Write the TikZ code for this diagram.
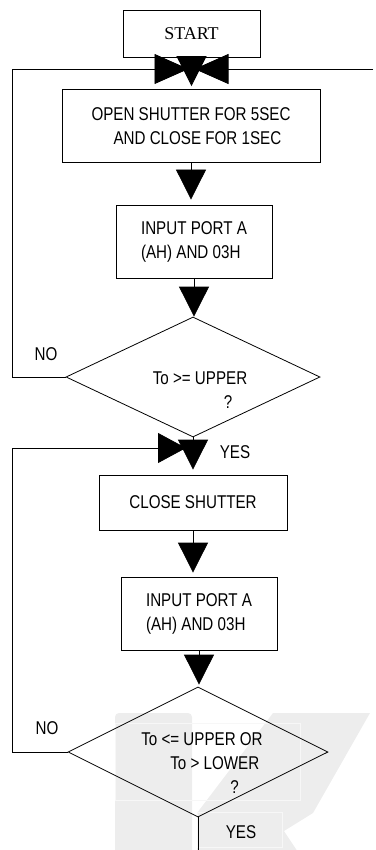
\documentclass[tikz,border=0pt]{standalone}
\usepackage{fontspec}
\usepackage{tikz}
\usetikzlibrary{arrows.meta,shapes.geometric}
\newfontfamily\chartfont[FakeStretch=0.82]{Liberation Sans}
\newfontfamily\startfont{Liberation Serif}
\definecolor{wmark}{gray}{0.93}
\definecolor{wline}{gray}{0.97}
\begin{document}
\begin{tikzpicture}[x=1pt,y=-1pt,line width=0.8pt,
  box/.style={draw,rectangle,inner sep=0pt,align=left,font=\chartfont\fontsize{18.5}{24}\selectfont},
  decision/.style={draw,diamond,inner sep=0pt},
  txt/.style={inner sep=0pt,align=left,font=\chartfont\fontsize{18.5}{24}\selectfont},
  flow/.style={-{Triangle[length=30pt,width=30pt]}},
  flowh/.style={-{Triangle[length=34pt,width=30pt]}}]
\useasboundingbox (0,0) rectangle (375,850);
\fill[wmark,rounded corners=4pt] (115,713) rectangle (192,858);
\fill[wmark] (273,713) -- (370,713) -- (313,813) -- (284,831) -- (302,858) -- (197,858) -- (197,813) -- cycle;
\draw[wline,line width=0.6pt] (115,723) rectangle (300,800);
\draw[wline,line width=0.6pt] (197,812) rectangle (282,847);
\node[box,minimum width=137pt,minimum height=47pt,font=\startfont\fontsize{18}{20}\selectfont] (start) at (191.5,33.5) {START};
\node[box,minimum width=258pt,minimum height=73pt] (open) at (191,126) {OPEN SHUTTER FOR 5SEC\\\hspace*{22pt}AND CLOSE FOR 1SEC};
\node[box,minimum width=156pt,minimum height=73pt] (port1) at (194,241.5) {INPUT PORT A\\(AH) AND 03H};
\node[decision,minimum width=254pt,minimum height=120pt] (d1) at (193,377) {};
\node[txt] (q1) at (200,390) {To >= UPPER\\\hspace*{71pt}?};
\node[box,minimum width=188pt,minimum height=55pt] (close) at (193,502.5) {CLOSE SHUTTER};
\node[box,minimum width=156pt,minimum height=73pt] (port2) at (199,613.5) {INPUT PORT A\\(AH) AND 03H};
\node[decision,minimum width=260pt,minimum height=130pt] (d2) at (198,752) {};
\node[txt] (q2) at (202,763) {To <= UPPER OR\\\hspace*{29pt}To > LOWER\\\hspace*{89pt}?};
\node[txt] (no1) at (46,354) {NO};
\node[txt] (yes1) at (235,452) {YES};
\node[txt] (no2) at (47,728) {NO};
\node[txt] (yes2) at (241,832) {YES};
\coordinate (lx) at (12,0);
\coordinate (j1) at (191.5,69);
\coordinate (rin) at (373,69);
\coordinate (j2) at (193,448);
\coordinate (bot) at (198,850);
\draw[flow,shorten >=3pt] (start.south) -- (start.south |- open.north);
\draw[flow,shorten >=5pt] (open.south) -- (open.south |- port1.north);
\draw[flow] (port1.south) -- (port1.south |- d1.north);
\draw[flow,shorten >=5pt] (d1.south) -- (d1.south |- close.north);
\draw[flow,shorten >=4pt] (close.south) -- (close.south |- port2.north);
\draw[flow,shorten >=2pt] (port2.south) -- (port2.south |- d2.north);
\draw[flowh,shorten >=3pt] (d1.west) -- (d1.west -| lx) |- (j1);
\draw[flowh,shorten >=3pt] (rin) -- (j1);
\draw[-{Triangle[length=28pt,width=30pt]},shorten >=7pt] (d2.west) -- (d2.west -| lx) |- (j2);
\draw (d2.south) -- (bot);
\end{tikzpicture}
\end{document}
